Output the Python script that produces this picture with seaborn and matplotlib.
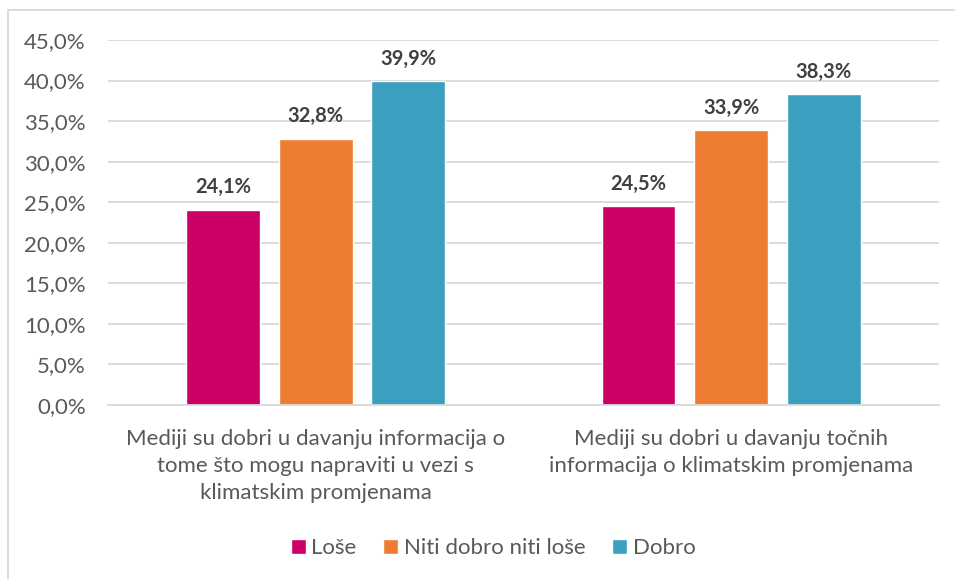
import matplotlib
matplotlib.use("Agg")
import matplotlib.pyplot as plt
import seaborn as sns
import pandas as pd
from matplotlib.patches import Rectangle

categories = [
    "Mediji su dobri u davanju informacija o\ntome što mogu napraviti u vezi s\nklimatskim promjenama",
    "Mediji su dobri u davanju točnih\ninformacija o klimatskim promjenama",
]
series = ["Loše", "Niti dobro niti loše", "Dobro"]
lose = [24.1, 24.5]
niti = [32.8, 33.9]
dobro = [39.9, 38.3]
yticks = [0, 5, 10, 15, 20, 25, 30, 35, 40, 45]
colors = ["#CC0066", "#ED7D31", "#3BA0BF"]

rows = []
for vals, name in zip([lose, niti, dobro], series):
    for cat, v in zip(categories, vals):
        rows.append({"cat": cat, "serija": name, "val": v})
df = pd.DataFrame(rows)

sns.set_style("white")
plt.rcParams["font.family"] = ["Lato", "DejaVu Sans"]
text_col = "#595959"
fs = 16

fig = plt.figure(figsize=(9.55, 5.79), dpi=100)
ax = fig.add_axes([0.1131, 0.3005, 0.8701, 0.6304])

sns.barplot(data=df, x="cat", y="val", hue="serija", hue_order=series,
            palette=colors, order=categories, width=0.668, gap=0.205,
            saturation=1, ax=ax, legend=True)

ax.set_ylim(0, 45)
ax.set_xlim(-0.5, 1.5)
ax.set_yticks(yticks)
ax.set_yticklabels([f"{t:.1f}%".replace(".", ",") for t in yticks])
ax.yaxis.grid(True, color="#D9D9D9", linewidth=1.3)
ax.set_axisbelow(True)
for s in ["top", "right", "left"]:
    ax.spines[s].set_visible(False)
ax.spines["bottom"].set_color("#D9D9D9")
ax.spines["bottom"].set_linewidth(1.3)
ax.tick_params(axis="y", length=0, pad=16, labelsize=fs, labelcolor=text_col)
ax.tick_params(axis="x", length=0, pad=17, labelsize=fs, labelcolor=text_col)
for lbl in ax.get_xticklabels():
    lbl.set_linespacing(1.45)
ax.set_xlabel("")
ax.set_ylabel("")

for cont in ax.containers:
    ax.bar_label(cont, labels=[f"{v:.1f}%".replace(".", ",") for v in cont.datavalues],
                 padding=9, fontsize=14.5, fontweight="bold", color="#404040")

handles, labels = ax.get_legend_handles_labels()
ax.legend(handles, labels, loc="center", bbox_to_anchor=(493 / 955, 1 - 548 / 579),
          bbox_transform=fig.transFigure, ncol=3, frameon=False,
          fontsize=fs, labelcolor=text_col, handlelength=0.68, handleheight=0.68,
          handletextpad=0.25, columnspacing=1.2)

# chart frame
fig.patches.append(Rectangle((8 / 955, -0.05), 1.2, 1 - 10 / 579 + 0.05,
                             transform=fig.transFigure, fill=False,
                             edgecolor="#D9D9D9", linewidth=1.3))

fig.savefig("out.png", dpi=100, facecolor="white")
